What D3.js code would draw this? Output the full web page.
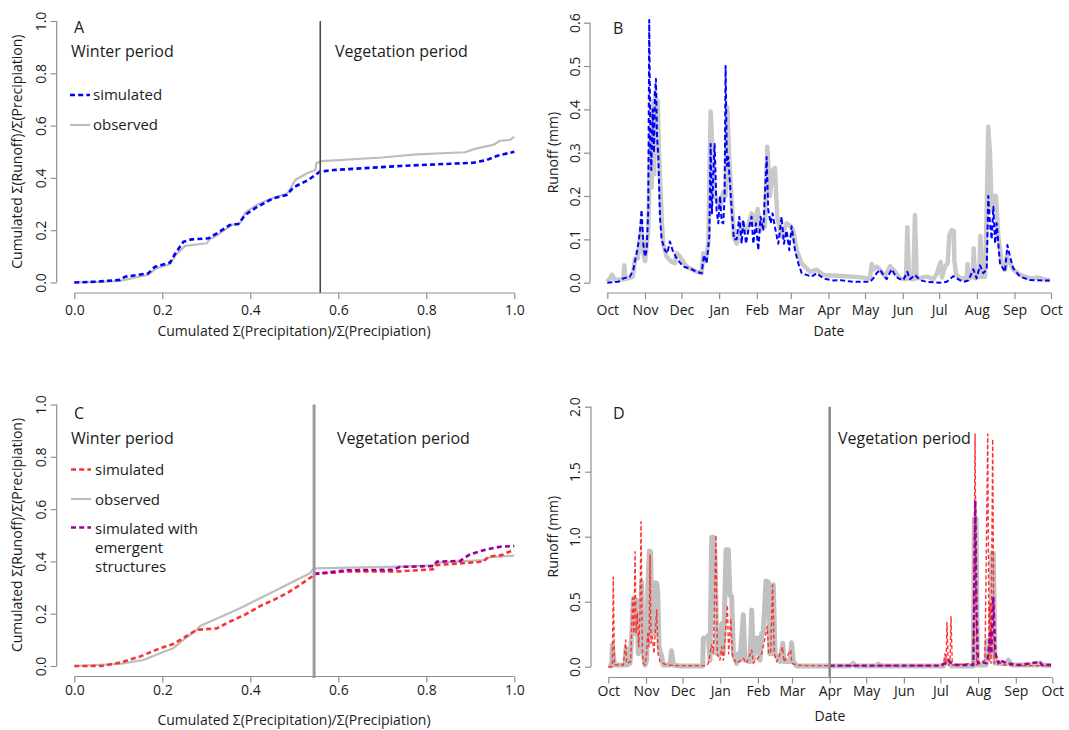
<!DOCTYPE html>
<html>
<head>
<meta charset="utf-8">
<script src="https://cdn.jsdelivr.net/npm/d3@7"></script>
<style>
  body { margin: 0; background: #fff; }
  svg { display: block; }
</style>
</head>
<body>
<svg id="fig" width="1069" height="730"></svg>
<script>
// ---------- data ----------
// Cumulated runoff vs cumulated precipitation, [fraction of precipitation, fraction of runoff]
const aObserved = [[0,0],[0.05,0.002],[0.104,0.006],[0.168,0.03],[0.187,0.055],[0.2175,0.07],[0.233,0.11],[0.252,0.14],[0.301,0.15],[0.307,0.165],[0.324,0.18],[0.358,0.22],[0.377,0.227],[0.388,0.267],[0.4145,0.296],[0.44,0.3155],[0.485,0.341],[0.502,0.392],[0.529,0.418],[0.548,0.43],[0.55,0.456],[0.5615,0.4645],[0.7,0.478],[0.778,0.49],[0.888,0.498],[0.9145,0.513],[0.952,0.526],[0.9675,0.542],[0.99,0.545],[1.0,0.557]];
const aSimulated = [[0,0],[0.05,0.003],[0.104,0.01],[0.115,0.022],[0.168,0.035],[0.183,0.06],[0.2175,0.076],[0.229,0.11],[0.248,0.156],[0.267,0.165],[0.305,0.169],[0.324,0.188],[0.354,0.22],[0.373,0.224],[0.388,0.258],[0.4145,0.288],[0.452,0.322],[0.483,0.335],[0.498,0.364],[0.532,0.392],[0.558,0.424],[0.589,0.43],[0.74,0.4455],[0.907,0.458],[0.937,0.468],[0.96,0.484],[1.0,0.5]];
const aSplit = 0.559;

const cObserved = [[0,0],[0.104,0.008],[0.157,0.023],[0.195,0.049],[0.225,0.068],[0.248,0.1],[0.278,0.138],[0.2857,0.153],[0.331,0.186],[0.3766,0.221],[0.422,0.259],[0.46,0.291],[0.498,0.323],[0.5357,0.3545],[0.541,0.367],[0.549,0.3736],[0.74,0.38],[0.816,0.385],[0.824,0.395],[0.93,0.405],[0.945,0.416],[1.0,0.422]];
const cSimulated = [[0,0],[0.062,0],[0.104,0.013],[0.149,0.036],[0.195,0.068],[0.225,0.084],[0.2555,0.115],[0.278,0.138],[0.324,0.144],[0.354,0.17],[0.392,0.2],[0.422,0.229],[0.452,0.252],[0.483,0.278],[0.513,0.31],[0.5395,0.3415],[0.545,0.352],[0.589,0.357],[0.615,0.362],[0.74,0.362],[0.816,0.37],[0.824,0.386],[0.93,0.399],[0.941,0.418],[0.971,0.424],[0.994,0.441],[1.0,0.442]];
const cEmergent = [[0.545,0.352],[0.619,0.366],[0.725,0.368],[0.74,0.379],[0.816,0.382],[0.824,0.399],[0.877,0.402],[0.899,0.427],[0.937,0.446],[0.9675,0.456],[1.0,0.459]];
const cSplit = 0.545;

// Daily runoff (mm), [day of hydrological year from 1 October, runoff]
const bObserved = [[0,0.002],[4.1,0.018],[6,0.006],[13,0.008],[14,0.04],[15,0.008],[21,0.014],[22.8,0.056],[25,0.056],[26.9,0.1],[28,0.13],[29.6,0.07],[31,0.05],[33.7,0.12],[35.6,0.35],[36.5,0.22],[37.5,0.42],[38.5,0.25],[39.5,0.44],[40.5,0.3],[41.5,0.42],[42.5,0.3],[44.7,0.15],[46,0.09],[48.8,0.06],[52.9,0.048],[55.7,0.045],[57,0.068],[59.8,0.06],[65.3,0.037],[73.5,0.025],[77.6,0.022],[79,0.068],[80.9,0.05],[83.1,0.09],[85,0.395],[86.6,0.3],[88.6,0.2],[92.7,0.17],[95.4,0.21],[97.3,0.2],[98.7,0.405],[100.4,0.28],[102.3,0.19],[104.2,0.105],[106.4,0.09],[110.5,0.137],[114.6,0.12],[118.7,0.16],[121.5,0.135],[123.7,0.17],[125.6,0.12],[127.8,0.137],[129.7,0.13],[131.6,0.314],[133.8,0.2],[136,0.26],[137.9,0.265],[139.8,0.152],[143.4,0.106],[147.5,0.137],[150.8,0.13],[153,0.12],[155.7,0.075],[159.9,0.045],[166.8,0.025],[172.2,0.03],[177.7,0.018],[188.7,0.016],[202.4,0.014],[216.1,0.01],[217.5,0.043],[218.8,0.03],[221.6,0.037],[224.3,0.03],[228.4,0.014],[232.6,0.038],[235.3,0.03],[240.8,0.01],[245.7,0.008],[246.8,0.128],[248.2,0.01],[251.8,0.008],[253.1,0.156],[254.5,0.01],[263.3,0.014],[268.2,0.008],[271,0.02],[274.2,0.048],[275.3,0.012],[277.8,0.037],[280,0.045],[281.4,0.11],[283.3,0.121],[285,0.12],[285.5,0.052],[286.8,0.02],[290.1,0.01],[295.6,0.01],[296.4,0.043],[297.5,0.01],[300.6,0.014],[301.4,0.079],[302.5,0.01],[306,0.014],[306.9,0.108],[308,0.014],[310.7,0.014],[312.1,0.164],[313.4,0.36],[314.8,0.298],[316.2,0.168],[317.6,0.2],[319.7,0.2],[321.7,0.106],[324.4,0.045],[327.2,0.03],[328.5,0.06],[331.3,0.045],[334,0.03],[339.5,0.018],[347.7,0.01],[354.6,0.012],[361.4,0.006],[364,0.006]];
const bSimulated = [[0,0],[9,0.002],[13.2,0.01],[18.6,0.014],[21.4,0.03],[24.1,0.068],[25.5,0.09],[26.9,0.12],[28.2,0.168],[29.6,0.09],[31,0.06],[32.4,0.075],[33.7,0.168],[34.5,0.606],[35.4,0.32],[36.2,0.26],[37.3,0.4],[38.4,0.3],[39.2,0.437],[40,0.47],[40.9,0.337],[42,0.29],[43.3,0.152],[44.7,0.1],[47.4,0.075],[49.4,0.068],[51.5,0.095],[53.7,0.075],[57,0.056],[62.5,0.037],[68,0.033],[73.5,0.025],[77.6,0.022],[79.5,0.064],[81.7,0.045],[83.9,0.106],[85,0.32],[86.1,0.16],[87.2,0.25],[88.3,0.32],[89.9,0.168],[91.3,0.137],[92.7,0.2],[94.1,0.14],[95.4,0.137],[96.5,0.2],[97.3,0.5],[98.4,0.27],[99.5,0.29],[100.9,0.23],[102.3,0.168],[104.2,0.1],[106.4,0.1],[108.6,0.152],[110.5,0.09],[111.9,0.145],[114.1,0.09],[116,0.12],[118.7,0.152],[120.1,0.09],[122.3,0.137],[124.2,0.075],[126.1,0.152],[128.3,0.12],[131.1,0.29],[132.4,0.168],[134.4,0.137],[136,0.16],[137.9,0.128],[140.7,0.09],[143.4,0.152],[145.3,0.09],[147.5,0.12],[149.7,0.075],[151.6,0.13],[154.4,0.075],[157.1,0.045],[159.9,0.022],[164,0.018],[168.1,0.014],[172.2,0.022],[177.7,0.01],[185.9,0.005],[191.4,0.006],[202.4,0.002],[216.1,0.002],[218.8,0.01],[221.6,0.022],[224.3,0.03],[227.1,0.018],[229.8,0.008],[233.9,0.031],[236.7,0.018],[239.4,0.01],[243.5,0.006],[246.8,0.025],[249,0.008],[253.1,0.018],[257.2,0.006],[262.7,0.002],[273.7,0],[279.2,0.002],[284.6,0.015],[287.4,0.01],[292.9,0.002],[297,0.005],[301.1,0.031],[303.8,0.01],[306.6,0.04],[309.3,0.022],[312.1,0.03],[313.4,0.2],[314.8,0.137],[316.2,0.1],[317.6,0.175],[319,0.09],[320.3,0.137],[323,0.045],[327.2,0.025],[329.1,0.087],[331.3,0.06],[334,0.033],[339.5,0.014],[347.7,0.006],[361.4,0.005],[364,0.005]];

const dObserved = [[0,0.005],[2.8,0.005],[3.3,0.167],[5,0.013],[13.7,0.013],[14.6,0.14],[15.6,0.013],[17.8,0.026],[19.2,0.24],[20.6,0.525],[22,0.256],[23.3,0.51],[24.7,0.1],[26.1,0.256],[27.4,0.65],[28.8,0.1],[30.2,0.013],[31.5,0.05],[32.4,0.58],[33.7,0.89],[34.8,0.885],[35.7,0.256],[37.6,0.256],[38.7,0.646],[39.8,0.64],[40.6,0.58],[41.7,0.154],[43.9,0.077],[45.2,0.013],[50.7,0.013],[52,0.123],[53.5,0.013],[58.9,0.005],[77.6,0.005],[78.1,0.218],[80.9,0.22],[82.2,0.24],[83.6,0.05],[85,0.995],[86.4,0.995],[87.7,0.846],[89.1,0.1],[91.8,0.1],[93.2,0.33],[94.6,0.1],[96.8,0.9],[98.7,0.9],[100,0.55],[101.4,0.54],[102.8,0.1],[105.5,0.026],[106.9,0.1],[108.3,0.05],[111,0.4],[112.4,0.05],[116.5,0.04],[117.9,0.436],[119.2,0.05],[122,0.22],[123.3,0.22],[124.7,0.05],[126.1,0.256],[127.4,0.256],[129.6,0.66],[131.6,0.65],[132.9,0.1],[134.3,0.1],[135.7,0.63],[137,0.1],[141.2,0.04],[143.4,0.18],[144.4,0.04],[149.4,0.04],[150.7,0.185],[152.1,0.04],[154.8,0.005],[198.7,0.005],[201.4,0.025],[203.1,0.005],[220.6,0.005],[222,0.02],[223.4,0.005],[275.4,0.005],[278.2,0.05],[282.3,0.005],[300.1,0.005],[300.9,1.14],[302.3,1.14],[303.4,0.013],[310.5,0.013],[311.1,0.2],[312.4,0.05],[314.4,0.1],[315.2,0.87],[316.5,0.87],[317.9,0.026],[327.5,0.026],[328.9,0.05],[331.6,0.013],[353.5,0.013],[354.9,0.03],[356.3,0.013],[364,0.01]];
const dSimulated = [[0,0],[3.3,0],[4.1,0.69],[5,0.013],[12.4,0.013],[14.3,0.205],[15.1,0.026],[18.4,0.038],[20,0.53],[21.1,0.256],[22,0.885],[22.8,0.256],[23.9,0.41],[25,0.154],[26.1,0.41],[26.9,1.115],[28,0.128],[28.8,0.026],[30.2,0.013],[31.5,0.1],[32.4,0.256],[33.5,0.154],[34.3,0.86],[35.1,0.18],[36.2,0.23],[37.6,0.1],[38.7,0.28],[39.8,0.436],[40.9,0.1],[42.5,0.038],[48,0.013],[58.9,0.008],[80.9,0.008],[82.2,0.026],[85,0.167],[86.4,0.1],[88.5,1.013],[89.6,0.1],[91.8,0.05],[93.2,0.154],[94.6,0.05],[97.9,0.474],[98.9,0.1],[100.6,0.37],[102.2,0.077],[105.5,0.026],[111,0.064],[113.7,0.026],[117.9,0.128],[119.2,0.026],[126.1,0.1],[129.6,0.256],[130.7,0.31],[131.8,0.1],[133.5,0.115],[135.1,0.628],[136.5,0.1],[138.4,0.038],[143.4,0.15],[144.4,0.038],[149.9,0.128],[151,0.026],[154.8,0.013],[163,0.008],[275.4,0.008],[276.8,0.1],[277.6,0.013],[278.4,0.34],[279.5,0.013],[280.9,0.026],[281.7,0.385],[282.8,0.013],[300.1,0.026],[301.5,1.79],[302.8,0.013],[309.7,0.05],[311.9,1.79],[313,0.05],[313.8,0.49],[314.6,0.026],[316,1.75],[317.1,0.026],[319.3,0.077],[323.4,0.013],[338.5,0.008],[364,0.008]];
const dEmergent = [[182,0.008],[272.7,0.008],[276.8,0.026],[279.5,0.05],[282.3,0.026],[286.4,0.013],[300.1,0.013],[301.7,1.28],[302.6,0.5],[303.9,0.026],[305.6,0.038],[311.1,0.026],[312.4,0.1],[313.8,0.256],[314.9,0.1],[316.5,0.54],[318.2,0.1],[320.7,0.026],[322,0.05],[327.5,0.026],[338.5,0.013],[354.9,0.038],[356.3,0.013],[364,0.013]];
const dSplitDay = 182; // 1 April

// Axis ticks and their labels
const cumTicks = [0, 0.2, 0.4, 0.6, 0.8, 1.0];
const cumTickLabels = ["0.0", "0.2", "0.4", "0.6", "0.8", "1.0"];
const bTicks = [0, 0.1, 0.2, 0.3, 0.4, 0.5, 0.6];
const bTickLabels = ["0.0", "0.1", "0.2", "0.3", "0.4", "0.5", "0.6"];
const dTicks = [0, 0.5, 1.0, 1.5, 2.0];
const dTickLabels = ["0.0", "0.5", "1.0", "1.5", "2.0"];
const monthLabels = ["Oct", "Nov", "Dec", "Jan", "Feb", "Mar", "Apr", "May", "Jun", "Jul", "Aug", "Sep", "Oct"];

// ---------- drawing ----------
const FONT = "'Open Sans', 'Noto Sans', sans-serif";
const AXIS_COL = "#8f8f8f";
const TEXT_COL = "#1c1c1c";
const svg = d3.select("#fig");

const t0 = Date.UTC(2010, 9, 1);
const t1 = Date.UTC(2011, 9, 1);
const dayToDate = d => new Date(t0 + d * 864e5);
const monthTicks = d3.utcMonth.range(new Date(t0), new Date(t1 + 864e5));

function label(x, y, str, size, opts = {}) {
  const t = svg.append("text")
    .attr("x", x).attr("y", y)
    .attr("font-family", FONT).attr("font-size", size)
    .attr("fill", TEXT_COL)
    .attr("text-anchor", opts.anchor || "start")
    .text(str);
  if (opts.rotate) t.attr("transform", `rotate(-90,${x},${y})`);
  return t;
}

function xAxisR(scale, ticks, labels, yLine, labelBase) {
  const ax = d3.axisBottom(scale).tickValues(ticks)
    .tickFormat((d, i) => labels[i]).tickSize(6);
  const g = svg.append("g").attr("transform", `translate(0,${yLine})`).call(ax)
    .attr("font-family", FONT).attr("font-size", 14);
  g.select(".domain").remove();
  g.selectAll(".tick line").attr("stroke", AXIS_COL).attr("stroke-width", 1.2);
  g.selectAll(".tick text").attr("y", labelBase - yLine).attr("dy", null).attr("fill", TEXT_COL);
  g.append("line")
    .attr("x1", scale(ticks[0])).attr("x2", scale(ticks[ticks.length - 1]))
    .attr("stroke", AXIS_COL).attr("stroke-width", 1.2);
}

function yAxisR(scale, ticks, labels, xLine, labelBase) {
  const ax = d3.axisLeft(scale).tickValues(ticks)
    .tickFormat((d, i) => labels[i]).tickSize(6);
  const g = svg.append("g").attr("transform", `translate(${xLine},0)`).call(ax)
    .attr("font-family", FONT).attr("font-size", 14);
  g.select(".domain").remove();
  g.selectAll(".tick line").attr("stroke", AXIS_COL).attr("stroke-width", 1.2);
  g.selectAll(".tick text")
    .attr("x", 0).attr("y", labelBase - xLine).attr("dy", null)
    .attr("text-anchor", "middle").attr("transform", "rotate(-90)")
    .attr("fill", TEXT_COL);
  g.append("line")
    .attr("y1", scale(ticks[0])).attr("y2", scale(ticks[ticks.length - 1]))
    .attr("stroke", AXIS_COL).attr("stroke-width", 1.2);
}

function path(data, xs, ys, style, xKey = d => d[0]) {
  const line = d3.line().x(d => xs(xKey(d))).y(d => ys(d[1]));
  svg.append("path").datum(data)
    .attr("d", line)
    .attr("fill", "none")
    .attr("stroke", style.color)
    .attr("stroke-width", style.width)
    .attr("stroke-dasharray", style.dash || null)
    .attr("stroke-linejoin", "round");
}

function legendLine(x1, x2, y, style) {
  svg.append("line").attr("x1", x1).attr("x2", x2).attr("y1", y).attr("y2", y)
    .attr("stroke", style.color).attr("stroke-width", style.width)
    .attr("stroke-dasharray", style.dash || null);
}

const styleObsCum = { color: "#bdbdbd", width: 2.2 };
const styleBlue = { color: "#0000ff", width: 2.6, dash: "5,3.2" };
const styleRedCum = { color: "#ff3030", width: 2.6, dash: "5,3.2" };
const stylePurpleCum = { color: "#9a009a", width: 2.6, dash: "5,3.2" };

// ---- Panel A ----
{
  const xs = d3.scaleLinear().domain([0, 1]).range([74.3, 514.3]);
  const ys = d3.scaleLinear().domain([0, 1]).range([282.5, 21]);
  path(aObserved, xs, ys, styleObsCum);
  path(aSimulated, xs, ys, styleBlue);
  svg.append("line").attr("x1", xs(aSplit)).attr("x2", xs(aSplit))
    .attr("y1", ys(1)).attr("y2", 293).attr("stroke", "#4a4a4a").attr("stroke-width", 1.6);
  xAxisR(xs, cumTicks, cumTickLabels, 293, 315);
  yAxisR(ys, cumTicks, cumTickLabels, 56.7, 45.5);
  label(294, 336, "Cumulated \u03A3(Precipitation)/\u03A3(Precipiation)", 14, { anchor: "middle" });
  label(22, 151.7, "Cumulated \u03A3(Runoff)/\u03A3(Precipiation)", 14, { anchor: "middle", rotate: true });
  label(74, 33, "A", 16);
  label(71, 56.5, "Winter period", 16);
  label(335, 56.5, "Vegetation period", 16);
  legendLine(70, 90, 95, styleBlue);
  label(93, 100, "simulated", 15);
  legendLine(70, 90, 125, styleObsCum);
  label(93, 130, "observed", 15);
}

// ---- Panel C ----
{
  const xs = d3.scaleLinear().domain([0, 1]).range([74.3, 514.3]);
  const ys = d3.scaleLinear().domain([0, 1]).range([666, 404.5]);
  path(cObserved, xs, ys, styleObsCum);
  path(cSimulated, xs, ys, styleRedCum);
  path(cEmergent, xs, ys, stylePurpleCum);
  svg.append("line").attr("x1", xs(cSplit)).attr("x2", xs(cSplit))
    .attr("y1", ys(1)).attr("y2", 678).attr("stroke", "#9c9c9c").attr("stroke-width", 3);
  xAxisR(xs, cumTicks, cumTickLabels, 676.5, 695);
  yAxisR(ys, cumTicks, cumTickLabels, 56.7, 45.5);
  label(294, 725, "Cumulated \u03A3(Precipitation)/\u03A3(Precipiation)", 14, { anchor: "middle" });
  label(22, 535, "Cumulated \u03A3(Runoff)/\u03A3(Precipiation)", 14, { anchor: "middle", rotate: true });
  label(74, 418.5, "C", 16);
  label(71, 443.5, "Winter period", 16);
  label(337, 443.5, "Vegetation period", 16);
  legendLine(71, 91, 469.5, styleRedCum);
  label(95, 474.5, "simulated", 15);
  legendLine(71, 91, 499, styleObsCum);
  label(95, 505, "observed", 15);
  legendLine(71, 91, 527.5, stylePurpleCum);
  label(95, 533.5, "simulated with", 15);
  label(95, 552.5, "emergent", 15);
  label(95, 571.5, "structures", 15);
}

// ---- Panel B ----
{
  const xs = d3.scaleUtc().domain([new Date(t0), new Date(t1)]).range([607.3, 1051]);
  const ys = d3.scaleLinear().domain([0, 0.6]).range([282.7, 22.7]);
  const byDay = d => dayToDate(d[0]);
  path(bObserved, xs, ys, { color: "#c9c9c9", width: 4.5 }, byDay);
  path(bSimulated, xs, ys, { color: "#0000ff", width: 2, dash: "5,2.8" }, byDay);
  xAxisR(xs, monthTicks, monthLabels, 293, 315);
  yAxisR(ys, bTicks, bTickLabels, 590, 579.5);
  label(829, 336, "Date", 14, { anchor: "middle" });
  label(558, 152.6, "Runoff (mm)", 14, { anchor: "middle", rotate: true });
  label(613, 34, "B", 16);
}

// ---- Panel D ----
{
  const xs = d3.scaleUtc().domain([new Date(t0), new Date(t1)]).range([608.3, 1052.3]);
  const ys = d3.scaleLinear().domain([0, 2]).range([666.7, 406.7]);
  const byDay = d => dayToDate(d[0]);
  path(dObserved, xs, ys, { color: "#c0c0c0", width: 5 }, byDay);
  path(dSimulated, xs, ys, { color: "#ff3030", width: 1.4, dash: "4,2.5" }, byDay);
  path(dEmergent, xs, ys, { color: "#9a009a", width: 2.4, dash: "5,3" }, byDay);
  const xv = xs(dayToDate(dSplitDay));
  svg.append("line").attr("x1", xv).attr("x2", xv)
    .attr("y1", ys(2)).attr("y2", 678).attr("stroke", "#8a8a8a").attr("stroke-width", 2.5);
  xAxisR(xs, monthTicks, monthLabels, 677.5, 696);
  yAxisR(ys, dTicks, dTickLabels, 591, 580);
  label(830, 721, "Date", 14, { anchor: "middle" });
  label(558, 536.7, "Runoff (mm)", 14, { anchor: "middle", rotate: true });
  label(613, 418.5, "D", 16);
  label(838, 444, "Vegetation period", 16);
}
</script>
</body>
</html>
